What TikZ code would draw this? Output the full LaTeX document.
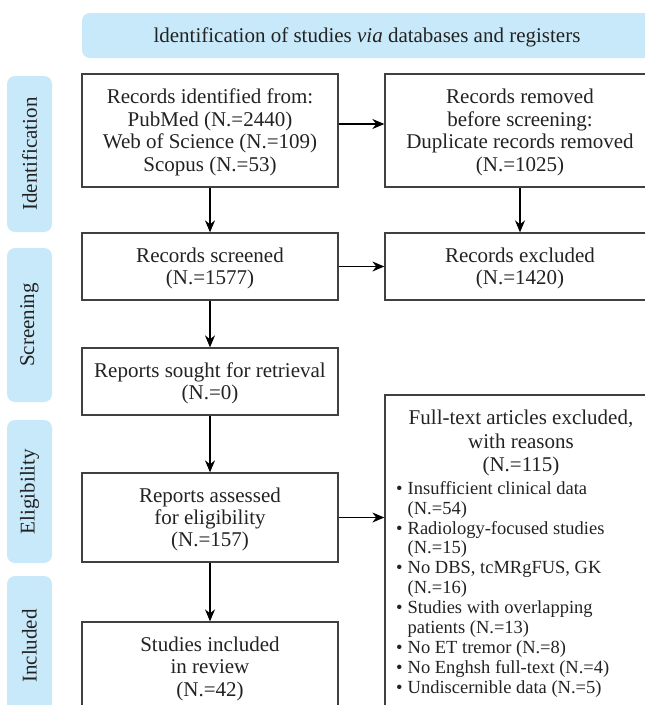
\documentclass[tikz,border=0pt]{standalone}
\usepackage{fontspec}
\setmainfont{Liberation Serif}
\usetikzlibrary{arrows.meta}
\definecolor{bluebg}{HTML}{C8E9F9}
\definecolor{boxline}{HTML}{404040}
\definecolor{txt}{HTML}{222222}
\newcommand\boxtxt[1]{\raisebox{0pt}[\dimexpr\height+5pt\relax]{\begin{tabular}{@{}c@{}}#1\end{tabular}}}
\begin{document}
\begin{tikzpicture}[x=1pt,y=-1pt,
  box/.style={draw=boxline,line width=1.3pt,text=txt,minimum width=256pt,inner sep=0pt,font=\fontsize{21}{22.4}\selectfont},
  sidelab/.style={fill=bluebg,rounded corners=8pt,rotate=90,minimum height=45pt,inner sep=0pt,text=txt,font=\fontsize{21}{22}\selectfont},
  arr/.style={draw=black,line width=1.2pt,-{Stealth[length=12pt,width=10pt]}},
  plain/.style={text=txt,inner sep=0pt}]
\useasboundingbox (0,0) rectangle (645,705);
\clip (0,0) rectangle (645,705);
% banner
\node[fill=bluebg,rounded corners=8pt,minimum width=570pt,minimum height=45pt,inner sep=0pt,text=txt,font=\fontsize{21}{22}\selectfont] (banner) at (367,35.5) {\boxtxt{ldentification of studies \textit{via} databases and registers}};
% side labels
\node[sidelab,minimum width=156pt] (sid) at (29.5,154) {Identification};
\node[sidelab,minimum width=154pt] (sscr) at (29.5,325) {Screening};
\node[sidelab,minimum width=143pt] (selig) at (29.5,491.5) {Eligibility};
\node[sidelab,minimum width=140pt] (sincl) at (29.5,646) {Included};
% boxes
\node[box,minimum height=113pt] (ident) at (210,130.5) {\boxtxt{Records identified from:\\PubMed (N.=2440)\\Web of Science (N.=109)\\Scopus (N.=53)}};
\node[box,minimum width=270pt,minimum height=113pt] (removed) at (520,130.5) {\boxtxt{Records removed\\before screening:\\Duplicate records removed\\(N.=1025)}};
\node[box,minimum height=67pt] (screened) at (210,266.5) {\boxtxt{Records screened\\(N.=1577)}};
\node[box,minimum width=270pt,minimum height=67pt] (excluded) at (520,266.5) {\boxtxt{Records excluded\\(N.=1420)}};
\node[box,minimum height=67pt] (sought) at (210,381.5) {\boxtxt{Reports sought for retrieval\\(N.=0)}};
\node[box,minimum height=89pt] (assessed) at (210,517.5) {\boxtxt{Reports assessed\\for eligibility\\(N.=157)}};
\node[box,minimum height=90pt] (included) at (210,667) {\boxtxt{Studies included\\in review\\(N.=42)}};
\node[box,minimum width=275pt,minimum height=320pt] (fulltext) at (522.5,555) {};
\node[plain,align=center,anchor=north,font=\fontsize{21}{23.5}\selectfont] (fthead) at (521,410) {Full-text articles excluded,\\with reasons\\(N.=115)};
\node[plain,align=left,anchor=north west,font=\fontsize{18.5}{19.9}\selectfont] (ftlist) at (396,481) {%
\makebox[11.5pt][l]{\textbullet}Insufficient clinical data\\
\hspace*{11.5pt}(N.=54)\\
\makebox[11.5pt][l]{\textbullet}Radiology-focused studies\\
\hspace*{11.5pt}(N.=15)\\
\makebox[11.5pt][l]{\textbullet}No DBS, tcMRgFUS, GK\\
\hspace*{11.5pt}(N.=16)\\
\makebox[11.5pt][l]{\textbullet}Studies with overlapping\\
\hspace*{11.5pt}patients (N.=13)\\
\makebox[11.5pt][l]{\textbullet}No ET tremor (N.=8)\\
\makebox[11.5pt][l]{\textbullet}No Enghsh full-text (N.=4)\\
\makebox[11.5pt][l]{\textbullet}Undiscernible data (N.=5)};
% connectors
\draw[arr] ([yshift=6.5pt]ident.east) -- ([yshift=6.5pt]ident.east -| removed.west);
\draw[arr] (ident) -- (screened);
\draw[arr] (removed) -- (excluded);
\draw[arr] (screened.east) -- (screened.east -| excluded.west);
\draw[arr] (screened) -- (sought);
\draw[arr] (sought) -- (assessed);
\draw[arr] (assessed.east) -- (assessed.east -| fulltext.west);
\draw[arr] (assessed) -- (included);
\end{tikzpicture}
\end{document}
